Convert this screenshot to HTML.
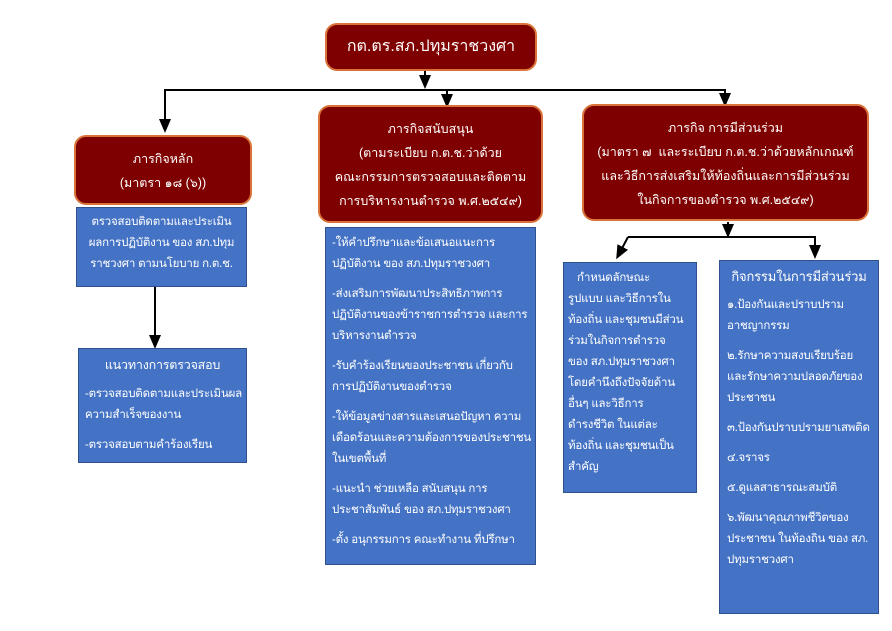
<!DOCTYPE html>
<html><head><meta charset="utf-8"><style>
body{margin:0;width:892px;height:631px;background:#fff;position:relative;overflow:hidden;font-family:"Liberation Sans","DejaVu Sans",sans-serif;}
.r{position:absolute;background:#7f0000;border:2px solid #d9733a;border-radius:12px;color:#fff;text-align:center;box-sizing:border-box;font-size:12.5px;white-space:nowrap;}
.b{position:absolute;background:#4472c4;border:1.5px solid #2f528f;color:#fff;box-sizing:border-box;font-size:11.5px;line-height:21px;white-space:nowrap;letter-spacing:-0.2px;}
.b p{margin:0 0 9px 0;}
</style></head><body>
<svg width="892" height="631" style="position:absolute;left:0;top:0">
<defs><marker id="a" markerWidth="8" markerHeight="8" refX="4" refY="4" orient="auto"><path d="M0,1 L7,4 L0,7Z" fill="#000"/></marker></defs>
<g stroke="#000" stroke-width="2" fill="none">
<line x1="425" y1="70" x2="425" y2="83" marker-end="url(#a)"/>
<polyline points="725,101 725,90 165,90 165,127" marker-end="url(#a)"/>
<polyline points="725,90 725,101" marker-end="url(#a)"/>
<line x1="447" y1="90" x2="447" y2="102" marker-end="url(#a)"/>
<line x1="728" y1="222" x2="728" y2="232" marker-end="url(#a)"/>
<polyline points="628,237 815,237 815,253" marker-end="url(#a)"/>
<line x1="628" y1="237" x2="619" y2="254" marker-end="url(#a)"/>
<line x1="155" y1="287" x2="155" y2="343" marker-end="url(#a)"/>
</g></svg>
<div class="r" style="left:325px;top:23px;width:212px;height:48px;line-height:44px;font-size:16px">กต.ตร.สภ.ปทุมราชวงศา</div>
<div class="r" style="left:74px;top:135px;width:178px;height:70px;padding-top:10px;line-height:24px">ภารกิจหลัก<br>(มาตรา ๑๘ (๖))</div>
<div class="r" style="left:318px;top:105px;width:225px;height:118px;padding-top:10px;line-height:24px">ภารกิจสนับสนุน<br>(ตามระเบียบ ก.ต.ช.ว่าด้วย<br>คณะกรรมการตรวจสอบและติดตาม<br>การบริหารงานตำรวจ พ.ศ.๒๕๔๙)</div>
<div class="r" style="left:582px;top:104px;width:287px;height:117px;padding-top:10px;line-height:24px">ภารกิจ การมีส่วนร่วม<br>(มาตรา ๗ &nbsp;และระเบียบ ก.ต.ช.ว่าด้วยหลักเกณฑ์<br>และวิธีการส่งเสริมให้ท้องถิ่นและการมีส่วนร่วม<br>ในกิจการของตำรวจ พ.ศ.๒๕๔๙)</div>
<div class="b" style="left:76px;top:207px;width:171px;height:80px;padding:4px 6px;text-align:center">ตรวจสอบติดตามและประเมิน<br>ผลการปฏิบัติงาน ของ สภ.ปทุม<br>ราชวงศา ตามนโยบาย ก.ต.ช.</div>
<div class="b" style="left:78px;top:348px;width:169px;height:115px;padding:6px 6px"><div style="text-align:center;font-size:12.5px;margin-bottom:8px">แนวทางการตรวจสอบ</div><p>-ตรวจสอบติดตามและประเมินผล<br>ความสำเร็จของงาน</p><p>-ตรวจสอบตามคำร้องเรียน</p></div>
<div class="b" style="left:325px;top:227px;width:211px;height:338px;padding:5px 6px"><p>-ให้คำปรึกษาและข้อเสนอแนะการ<br>ปฏิบัติงาน ของ สภ.ปทุมราชวงศา</p><p>-ส่งเสริมการพัฒนาประสิทธิภาพการ<br>ปฏิบัติงานของข้าราชการตำรวจ และการ<br>บริหารงานตำรวจ</p><p>-รับคำร้องเรียนของประชาชน เกี่ยวกับ<br>การปฏิบัติงานของตำรวจ</p><p>-ให้ข้อมูลข่างสารและเสนอปัญหา ความ<br>เดือดร้อนและความต้องการของประชาชน<br>ในเขตพื้นที่</p><p>-แนะนำ ช่วยเหลือ สนับสนุน การ<br>ประชาสัมพันธ์ ของ สภ.ปทุมราชวงศา</p><p>-ตั้ง อนุกรรมการ คณะทำงาน ที่ปรึกษา</p></div>
<div class="b" style="left:563px;top:262px;width:134px;height:231px;padding:5px 4px">&nbsp;&nbsp;&nbsp;กำหนดลักษณะ<br>รูปแบบ และวิธีการใน<br>ท้องถิ่น และชุมชนมีส่วน<br>ร่วมในกิจการตำรวจ<br>ของ สภ.ปทุมราชวงศา<br>โดยคำนึงถึงปัจจัยด้าน<br>อื่นๆ และวิธีการ<br>ดำรงชีวิต ในแต่ละ<br>ท้องถิ่น และชุมชนเป็น<br>สำคัญ</div>
<div class="b" style="left:719px;top:260px;width:160px;height:354px;padding:5px 7px"><div style="text-align:center;font-size:13px;margin-bottom:8px">กิจกรรมในการมีส่วนร่วม</div><p>๑.ป้องกันและปราบปราม<br>อาชญากรรม</p><p>๒.รักษาความสงบเรียบร้อย<br>และรักษาความปลอดภัยของ<br>ประชาชน</p><p>๓.ป้องกันปราบปรามยาเสพติด</p><p>๔.จราจร</p><p>๕.ดูแลสาธารณะสมบัติ</p><p>๖.พัฒนาคุณภาพชีวิตของ<br>ประชาชน ในท้องถิน ของ สภ.<br>ปทุมราชวงศา</p></div>
</body></html>
